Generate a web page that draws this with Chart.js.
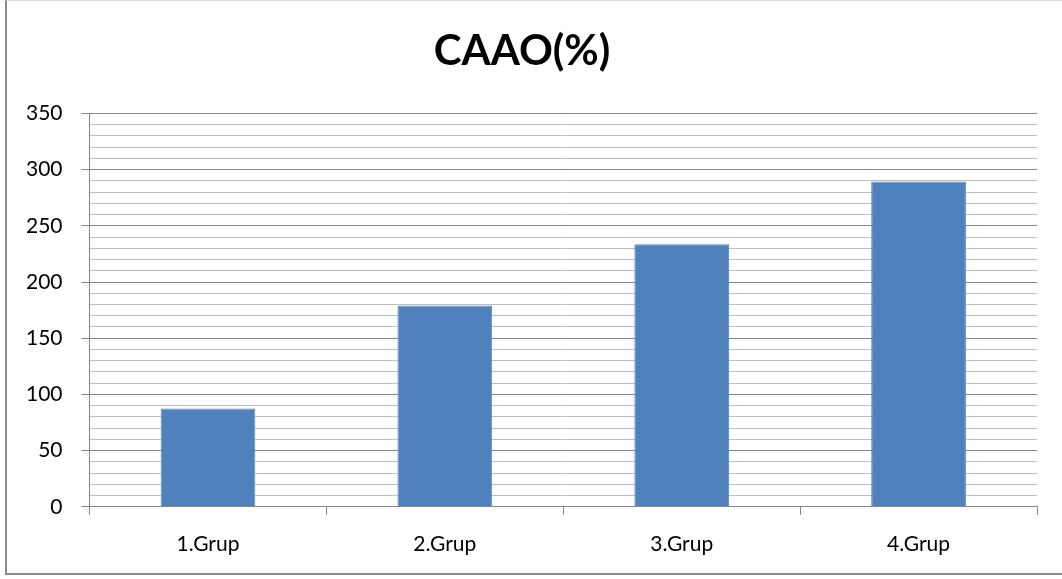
<!DOCTYPE html>
<html>
<head>
<meta charset="utf-8">
<script src="https://cdn.jsdelivr.net/npm/chart.js@4/dist/chart.umd.min.js"></script>
<style>
  html, body { margin: 0; padding: 0; background: #fff; }
  #wrap { position: relative; width: 1062px; height: 579px; }
  #frame {
    position: absolute; left: 5px; top: 0; width: 1057px; height: 575px;
    border-left: 2px solid #8a8a8a; border-top: 1px solid #d9d9d9; border-bottom: 2px solid #8a8a8a;
    box-sizing: border-box; pointer-events: none;
  }
  canvas { position: absolute; left: 0; top: 0; }
</style>
</head>
<body>
<div id="wrap">
  <canvas id="chart" width="1062" height="579"></canvas>
  <div id="frame"></div>
</div>
<script>
// Group labels and CAAO percentages per group
const categories = ['1.Grup', '2.Grup', '3.Grup', '4.Grup'];
const caaoValues = [87.5, 179, 233.5, 289.5];
const yMin = 0;
const yMax = 350;
const yMajorStep = 50;
const yMinorStep = 10;

const FONT = 'Lato, "Liberation Sans", sans-serif';
const MAJOR = '#868686';
const MINOR = '#bfbfbf';

new Chart(document.getElementById('chart'), {
  type: 'bar',
  data: {
    labels: categories,
    datasets: [{
      label: 'CAAO(%)',
      data: caaoValues,
      backgroundColor: '#4f81bd',
      borderColor: '#5a8ac6',
      borderWidth: 1,
      barPercentage: 0.4,
      categoryPercentage: 1.0
    }]
  },
  options: {
    responsive: false,
    animation: false,
    devicePixelRatio: 1,
    layout: { padding: { left: 7, right: 25, top: 0, bottom: 5 } },
    plugins: {
      legend: { display: false },
      tooltip: { enabled: false },
      title: {
        display: true,
        text: 'CAAO(%)',
        color: '#000',
        font: { family: FONT, size: 42, weight: 'bold' },
        padding: { top: 26, bottom: 37 }
      }
    },
    scales: {
      x: {
        offset: true,
        grid: {
          offset: true,
          drawOnChartArea: false,
          drawTicks: true,
          tickLength: 8,
          tickColor: MAJOR
        },
        border: { display: true, color: MAJOR, width: 1 },
        ticks: {
          color: '#000',
          padding: 17,
          font: { family: FONT, size: 21 }
        }
      },
      y: {
        min: yMin,
        max: yMax,
        grid: {
          color: ctx => (ctx.tick && ctx.tick.value % yMajorStep === 0) ? MAJOR : MINOR,
          tickColor: ctx => (ctx.tick && ctx.tick.value % yMajorStep === 0) ? MAJOR : 'rgba(0,0,0,0)',
          lineWidth: 1,
          tickLength: 8
        },
        border: { display: true, color: MAJOR, width: 1 },
        ticks: {
          stepSize: yMinorStep,
          autoSkip: false,
          color: '#000',
          padding: 19,
          font: { family: FONT, size: 21 },
          callback: v => (v % yMajorStep === 0 ? String(v) : '')
        }
      }
    }
  }
});
</script>
</body>
</html>
